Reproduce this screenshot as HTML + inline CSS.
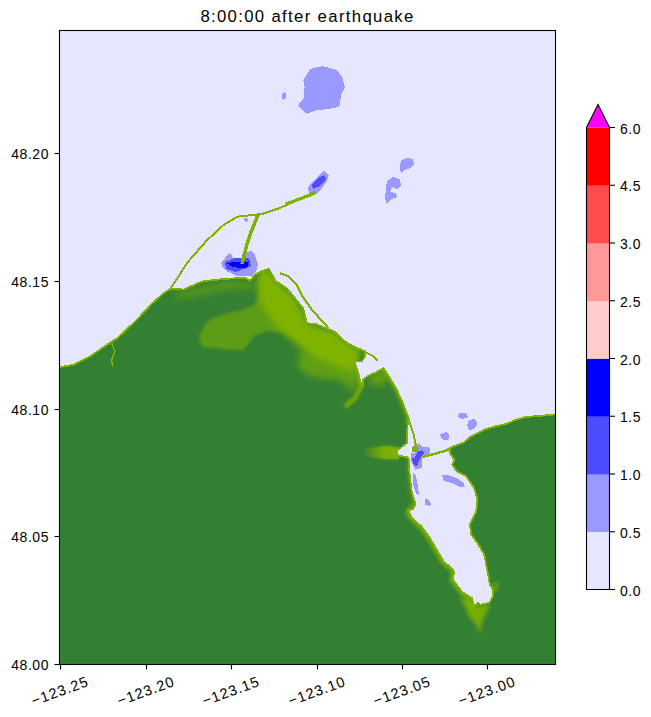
<!DOCTYPE html>
<html><head><meta charset="utf-8"><style>
html,body{margin:0;padding:0;background:#fff;width:651px;height:717px;overflow:hidden}
svg{position:absolute;left:0;top:0}
.t{position:absolute;font-family:"Liberation Sans",sans-serif;font-size:14px;line-height:18px;color:#000;white-space:nowrap;letter-spacing:0.55px}
.title{font-size:16.7px;line-height:20px;letter-spacing:1.35px}
.rx{transform:translate(-50%,-50%) rotate(-20deg);font-size:14.5px;letter-spacing:1.0px}
</style></head><body>
<svg width="651" height="717" viewBox="0 0 651 717">
<defs>
<filter id="b3" x="-50%" y="-50%" width="200%" height="200%"><feGaussianBlur stdDeviation="3"/></filter>
<filter id="b6" x="-50%" y="-50%" width="200%" height="200%"><feGaussianBlur stdDeviation="6"/></filter>
<filter id="b2" x="-50%" y="-50%" width="200%" height="200%"><feGaussianBlur stdDeviation="1.5"/></filter>
<linearGradient id="chg" x1="0" x2="1" y1="0" y2="0"><stop offset="0" stop-color="#80b300" stop-opacity="0"/><stop offset="0.6" stop-color="#80b300" stop-opacity="0.8"/><stop offset="1" stop-color="#80b300" stop-opacity="1"/></linearGradient>
<clipPath id="lc"><polygon points="60.0,367.1 73.4,364.8 89.6,356.8 110.3,342.5 117.2,338.3 135.6,321.0 151.8,303.8 163.3,293.4 170.2,288.8 184.0,289.5 197.9,283.0 205.0,281.0 226.0,278.8 244.5,277.9 250.3,280.5 255.0,274.6 261.8,271.1 268.7,268.8 275.6,281.0 287.2,288.4 296.4,300.0 303.2,308.4 306.9,323.2 316.0,324.1 334.5,331.5 347.4,343.5 358.4,348.6 364.6,351.0 364.6,357.2 361.5,361.5 354.7,361.5 355.4,364.6 358.4,373.2 360.3,381.8 362.7,385.5 363.3,379.3 368.3,375.6 376.9,372.0 380.5,369.5 383.6,368.3 389.1,376.9 396.5,389.1 402.7,402.7 408.8,418.6 407.5,425.0 407.0,443.0 396.8,450.4 397.0,455.0 407.9,457.5 408.8,460.0 409.5,473.7 411.8,492.2 415.3,503.7 413.0,509.4 408.0,510.0 412.0,518.0 422.0,527.0 430.0,538.0 438.0,552.0 444.0,562.0 452.3,568.6 454.1,572.3 452.9,579.7 462.1,591.9 471.9,598.1 474.4,607.3 478.1,602.4 480.5,604.8 489.1,603.0 492.8,596.9 492.8,589.5 489.8,584.6 488.5,576.0 486.7,567.4 485.5,560.0 484.0,554.0 478.0,544.0 471.0,534.0 470.0,524.0 474.0,516.0 476.4,510.6 477.5,499.1 474.0,487.6 466.0,476.0 456.8,471.4 452.2,464.5 454.5,459.9 449.9,453.0 450.3,447.6 463.7,442.6 470.0,437.2 478.3,433.0 486.6,428.9 494.9,426.5 506.0,424.0 515.6,419.9 525.3,417.1 541.9,415.7 555.0,414.4 555.0,664.0 60.0,664.0"/></clipPath>
</defs>
<rect x="60" y="31" width="495" height="633" fill="#e6e6ff"/>
<g shape-rendering="crispEdges">
<polygon points="60.0,367.1 73.4,364.8 89.6,356.8 110.3,342.5 117.2,338.3 135.6,321.0 151.8,303.8 163.3,293.4 170.2,288.8 184.0,289.5 197.9,283.0 205.0,281.0 226.0,278.8 244.5,277.9 250.3,280.5 255.0,274.6 261.8,271.1 268.7,268.8 275.6,281.0 287.2,288.4 296.4,300.0 303.2,308.4 306.9,323.2 316.0,324.1 334.5,331.5 347.4,343.5 358.4,348.6 364.6,351.0 364.6,357.2 361.5,361.5 354.7,361.5 355.4,364.6 358.4,373.2 360.3,381.8 362.7,385.5 363.3,379.3 368.3,375.6 376.9,372.0 380.5,369.5 383.6,368.3 389.1,376.9 396.5,389.1 402.7,402.7 408.8,418.6 407.5,425.0 407.0,443.0 396.8,450.4 397.0,455.0 407.9,457.5 408.8,460.0 409.5,473.7 411.8,492.2 415.3,503.7 413.0,509.4 408.0,510.0 412.0,518.0 422.0,527.0 430.0,538.0 438.0,552.0 444.0,562.0 452.3,568.6 454.1,572.3 452.9,579.7 462.1,591.9 471.9,598.1 474.4,607.3 478.1,602.4 480.5,604.8 489.1,603.0 492.8,596.9 492.8,589.5 489.8,584.6 488.5,576.0 486.7,567.4 485.5,560.0 484.0,554.0 478.0,544.0 471.0,534.0 470.0,524.0 474.0,516.0 476.4,510.6 477.5,499.1 474.0,487.6 466.0,476.0 456.8,471.4 452.2,464.5 454.5,459.9 449.9,453.0 450.3,447.6 463.7,442.6 470.0,437.2 478.3,433.0 486.6,428.9 494.9,426.5 506.0,424.0 515.6,419.9 525.3,417.1 541.9,415.7 555.0,414.4 555.0,664.0 60.0,664.0" fill="#338033"/>
<g clip-path="url(#lc)">
<polygon points="199.0,336.0 205.0,324.0 212.0,318.0 224.0,314.0 242.0,310.0 253.7,305.0 262.0,290.0 285.0,300.0 290.0,320.0 283.0,333.0 268.0,331.0 255.0,335.0 250.0,342.0 242.7,350.6 202.0,347.0" fill="#80b300" opacity="0.55" filter="url(#b2)"/>
<polygon points="300.0,349.0 315.0,357.0 330.0,363.0 350.0,368.0 357.0,382.0 353.0,392.0 340.0,380.0 320.0,379.0 305.0,374.0 298.0,366.0" fill="#80b300" opacity="0.6" filter="url(#b3)"/>
<polygon points="175.0,293.0 226.0,280.0 250.0,281.0 256.0,290.0 230.0,290.0 200.0,296.0 175.0,300.0" fill="#80b300" opacity="0.4" filter="url(#b3)"/>
<polygon points="258.0,271.0 268.0,268.0 276.0,280.0 292.0,294.0 304.0,313.0 308.0,324.0 334.0,331.0 348.0,343.0 362.0,351.0 357.0,361.0 356.0,371.0 360.0,386.0 350.0,372.0 330.0,365.0 315.0,359.0 305.0,351.0 294.0,342.0 283.0,333.0 270.0,318.0 262.0,305.0 257.0,290.0" fill="#80b300" filter="url(#b3)"/>
<polygon points="370.0,376.0 384.0,368.0 390.0,380.0 380.0,386.0 368.0,384.0" fill="#80b300" opacity="0.6" filter="url(#b3)"/>
<polyline points="354,356 357,366 359,376 361,386 355,398 345,407" fill="none" stroke="#80b300" stroke-width="5" opacity="0.8" filter="url(#b2)"/>
<polygon points="363.0,449.0 385.0,446.0 398.0,447.0 399.0,459.0 385.0,459.0 363.0,456.0" fill="url(#chg)" filter="url(#b2)"/>
<polygon points="363.0,449.0 385.0,446.0 398.0,447.0 399.0,459.0 385.0,459.0 363.0,456.0" fill="url(#chg)" opacity="0.6"/>
<filter id="b25" x="-50%" y="-50%" width="200%" height="200%"><feGaussianBlur stdDeviation="2.2"/></filter>
<polygon points="460.0,597.0 472.0,600.0 476.0,607.0 489.0,604.0 489.1,606.0 485.5,615.3 481.8,621.4 480.5,633.7 475.6,623.9 468.3,615.3 463.3,603.0" fill="#80b300" filter="url(#b25)" opacity="0.9"/>
<polyline points="409,460 410,474 412,492 415,503 408,511" fill="none" stroke="#80b300" stroke-width="5" opacity="0.5" filter="url(#b2)"/>
<polyline points="408.0,510.0 412.0,518.0 422.0,527.0 430.0,538.0 438.0,552.0 444.0,562.0 452.3,568.6 454.1,572.3 452.9,579.7 462.1,591.9 471.9,598.1 474.4,607.3" fill="none" stroke="#80b300" stroke-width="7" opacity="0.75" filter="url(#b2)"/>
<polyline points="383.6,368.3 389.1,376.9 396.5,389.1 402.7,402.7 408.8,418.6 407.5,425.0" fill="none" stroke="#80b300" stroke-width="5" opacity="0.7" filter="url(#b2)"/>
<polygon points="490.0,583.0 500.0,582.0 498.0,591.0 491.0,594.0" fill="#80b300" filter="url(#b2)" opacity="0.45"/>
</g>
<polyline points="60.0,367.1 73.4,364.8 89.6,356.8 110.3,342.5 117.2,338.3 135.6,321.0 151.8,303.8 163.3,293.4 170.2,288.8 184.0,289.5 197.9,283.0 205.0,281.0 226.0,278.8 244.5,277.9 250.3,280.5 255.0,274.6 261.8,271.1 268.7,268.8 275.6,281.0 287.2,288.4 296.4,300.0 303.2,308.4 306.9,323.2 316.0,324.1 334.5,331.5 347.4,343.5 358.4,348.6 364.6,351.0 364.6,357.2 361.5,361.5 354.7,361.5 355.4,364.6 358.4,373.2 360.3,381.8 362.7,385.5 363.3,379.3 368.3,375.6 376.9,372.0 380.5,369.5 383.6,368.3 389.1,376.9 396.5,389.1 402.7,402.7 408.8,418.6 407.5,425.0 407.0,443.0 396.8,450.4 397.0,455.0 407.9,457.5 408.8,460.0 409.5,473.7 411.8,492.2 415.3,503.7 413.0,509.4 408.0,510.0 412.0,518.0 422.0,527.0 430.0,538.0 438.0,552.0 444.0,562.0 452.3,568.6 454.1,572.3 452.9,579.7 462.1,591.9 471.9,598.1 474.4,607.3 478.1,602.4 480.5,604.8 489.1,603.0 492.8,596.9 492.8,589.5 489.8,584.6 488.5,576.0 486.7,567.4 485.5,560.0 484.0,554.0 478.0,544.0 471.0,534.0 470.0,524.0 474.0,516.0 476.4,510.6 477.5,499.1 474.0,487.6 466.0,476.0 456.8,471.4 452.2,464.5 454.5,459.9 449.9,453.0 450.3,447.6 463.7,442.6 470.0,437.2 478.3,433.0 486.6,428.9 494.9,426.5 506.0,424.0 515.6,419.9 525.3,417.1 541.9,415.7 555.0,414.4" fill="none" stroke="#80b300" stroke-width="1.8"/>
<polyline points="169.7,290.0 187.6,262.3 207.0,240.2 223.6,225.0 237.4,216.7 262.3,213.9 278.9,208.4 298.2,200.1 314.8,193.2" fill="none" stroke="#80b300" stroke-width="2" stroke-linejoin="round"/>
<polyline points="258.1,214.5 251.2,231.9 246.5,246.0 243.4,258.0 242.0,264.0" fill="none" stroke="#80b300" stroke-width="3.5" stroke-linejoin="round"/>
<polyline points="280.0,273.4 288.0,276.0 296.4,284.0 303.3,297.6 312.4,310.3 329.0,328.7" fill="none" stroke="#80b300" stroke-width="2.2" stroke-linejoin="round"/>
<polyline points="364.6,351.7 373.2,356.0 378.0,360.9" fill="none" stroke="#80b300" stroke-width="2" stroke-linejoin="round"/>
<polyline points="408.8,420.0 413.4,433.8 416.2,447.6" fill="none" stroke="#80b300" stroke-width="2" stroke-linejoin="round"/>
<polyline points="417.1,458.7 425.4,456.0 431.9,454.6 446.6,450.4 451.0,448.0" fill="none" stroke="#80b300" stroke-width="2.5" stroke-linejoin="round"/>
<polyline points="111.6,342.9 114.8,351.5 111.6,360.1 112.7,366.6" fill="none" stroke="#80b300" stroke-width="1.5" stroke-linejoin="round"/>
<polygon points="323.0,66.1 336.8,70.0 342.6,78.0 344.9,87.3 341.4,94.2 339.1,106.8 327.6,109.1 316.1,110.3 306.9,113.8 297.6,105.7 303.4,98.8 304.6,87.3 303.4,80.3 310.3,68.8" fill="#9999ff"/>
<polygon points="284.0,92.0 286.5,93.0 286.0,98.0 283.0,100.0 281.5,97.0 282.0,94.0" fill="#9999ff"/>
<polygon points="324.0,171.0 329.0,175.0 327.0,181.0 322.0,188.0 317.0,193.0 310.0,195.0 307.5,188.0 313.0,181.0 318.0,176.0" fill="#9999ff"/>
<polygon points="401.0,160.0 407.0,158.0 413.0,159.0 414.0,164.0 410.0,168.0 404.0,170.0 401.0,174.0 400.0,167.0" fill="#9999ff"/>
<polygon points="387.0,181.0 393.0,177.0 400.0,179.0 401.0,186.0 397.0,189.0 392.0,187.0 390.0,192.0 396.0,193.0 397.0,197.0 391.0,199.0 387.0,204.0 385.0,198.0 386.0,188.0" fill="#9999ff"/>
<polygon points="221.1,263.4 226.5,255.8 230.4,253.1 233.4,258.0 239.6,260.4 248.0,251.9 251.1,250.4 255.0,255.0 258.0,264.2 256.5,270.3 252.6,275.7 236.5,275.7 226.5,271.1 222.7,267.3" fill="#9999ff"/>
<polygon points="418.0,443.0 421.7,446.7 430.0,447.6 430.5,450.4 429.1,454.1 422.6,456.0 421.7,460.6 421.7,468.0 415.3,469.8 410.7,460.6 410.7,453.2 416.2,452.3 417.1,445.8" fill="#9999ff"/>
<polygon points="459.0,413.0 466.0,413.5 468.0,417.0 462.0,419.0 458.0,417.0" fill="#9999ff"/>
<polygon points="469.0,420.0 475.0,419.0 477.5,424.0 474.0,429.0 469.0,430.0 467.0,425.0" fill="#9999ff"/>
<polygon points="440.2,434.0 446.0,432.0 449.0,434.0 448.5,439.4 443.0,440.0 441.0,438.0" fill="#9999ff"/>
<polygon points="244.0,218.0 247.0,217.5 248.0,221.0 245.0,222.0" fill="#9999ff"/>
<polygon points="442.0,475.0 448.0,475.0 456.0,478.0 463.0,482.0 465.0,487.0 460.0,487.0 452.0,483.0 444.0,481.0" fill="#9999ff"/>
<polygon points="413.0,473.0 416.0,476.0 418.0,486.0 419.0,495.0 416.0,494.0 413.0,484.0" fill="#9999ff"/>
<polygon points="424.5,499.0 428.0,499.0 431.4,504.0 430.0,506.0 425.0,505.0" fill="#9999ff"/>
<polygon points="312.0,185.0 318.0,178.0 324.0,175.0 326.0,179.0 320.0,186.0 313.0,189.0" fill="#4d4dff"/>
<polygon points="225.0,262.0 235.0,258.0 249.0,258.0 251.0,266.0 236.0,272.0 226.0,269.0" fill="#4d4dff"/>
<polygon points="418.0,451.3 421.7,450.4 424.5,453.2 420.8,456.9 418.0,463.3 417.1,466.1 413.9,465.2 411.6,458.7 414.4,457.8" fill="#4d4dff"/>
<polygon points="227.3,263.4 235.0,261.5 248.8,261.9 247.3,268.0 232.7,267.3" fill="#0000ff"/>
<polygon points="411.6,447.6 417.1,443 418,451.3 411.6,452.3" fill="#80b300"/>
<polyline points="286.0,204.0 298.2,199.5 310.0,195.0 316.0,192.0" fill="none" stroke="#80b300" stroke-width="3.2" stroke-linejoin="round"/>
<polyline points="246.5,246.0 243.4,258.0 242.0,264.0" fill="none" stroke="#80b300" stroke-width="3.5"/>
</g>
<rect x="59.5" y="30.5" width="496" height="634" fill="none" stroke="#000" stroke-width="1.1"/>
<line x1="54.5" x2="59.5" y1="153.5" y2="153.5" stroke="#000" stroke-width="1.1"/>
<line x1="54.5" x2="59.5" y1="281.5" y2="281.5" stroke="#000" stroke-width="1.1"/>
<line x1="54.5" x2="59.5" y1="409.5" y2="409.5" stroke="#000" stroke-width="1.1"/>
<line x1="54.5" x2="59.5" y1="536.5" y2="536.5" stroke="#000" stroke-width="1.1"/>
<line x1="54.5" x2="59.5" y1="664.5" y2="664.5" stroke="#000" stroke-width="1.1"/>
<line y1="664.5" y2="669.5" x1="60.5" x2="60.5" stroke="#000" stroke-width="1.1"/>
<line y1="664.5" y2="669.5" x1="146.5" x2="146.5" stroke="#000" stroke-width="1.1"/>
<line y1="664.5" y2="669.5" x1="231.5" x2="231.5" stroke="#000" stroke-width="1.1"/>
<line y1="664.5" y2="669.5" x1="317.5" x2="317.5" stroke="#000" stroke-width="1.1"/>
<line y1="664.5" y2="669.5" x1="402.5" x2="402.5" stroke="#000" stroke-width="1.1"/>
<line y1="664.5" y2="669.5" x1="487.5" x2="487.5" stroke="#000" stroke-width="1.1"/>
<rect x="586.5" y="531.75" width="23.0" height="58.05" fill="#e6e6ff"/>
<rect x="586.5" y="474.00" width="23.0" height="58.05" fill="#9999ff"/>
<rect x="586.5" y="416.25" width="23.0" height="58.05" fill="#4d4dff"/>
<rect x="586.5" y="358.50" width="23.0" height="58.05" fill="#0000ff"/>
<rect x="586.5" y="300.75" width="23.0" height="58.05" fill="#ffcccc"/>
<rect x="586.5" y="243.00" width="23.0" height="58.05" fill="#ff9999"/>
<rect x="586.5" y="185.25" width="23.0" height="58.05" fill="#ff4d4d"/>
<rect x="586.5" y="127.50" width="23.0" height="58.05" fill="#ff0000"/>
<polygon points="586.5,127.5 598,104.5 609.5,127.5" fill="#ff00ff"/>
<path d="M586.5,127.5 L598,104.5 L609.5,127.5 L609.5,589.5 L586.5,589.5 Z" fill="none" stroke="#000" stroke-width="1.1"/>
<line x1="609.5" x2="615.0" y1="589.50" y2="589.50" stroke="#000" stroke-width="1.1"/>
<line x1="609.5" x2="615.0" y1="531.75" y2="531.75" stroke="#000" stroke-width="1.1"/>
<line x1="609.5" x2="615.0" y1="474.00" y2="474.00" stroke="#000" stroke-width="1.1"/>
<line x1="609.5" x2="615.0" y1="416.25" y2="416.25" stroke="#000" stroke-width="1.1"/>
<line x1="609.5" x2="615.0" y1="358.50" y2="358.50" stroke="#000" stroke-width="1.1"/>
<line x1="609.5" x2="615.0" y1="300.75" y2="300.75" stroke="#000" stroke-width="1.1"/>
<line x1="609.5" x2="615.0" y1="243.00" y2="243.00" stroke="#000" stroke-width="1.1"/>
<line x1="609.5" x2="615.0" y1="185.25" y2="185.25" stroke="#000" stroke-width="1.1"/>
<line x1="609.5" x2="615.0" y1="127.50" y2="127.50" stroke="#000" stroke-width="1.1"/>
</svg>
<div class="t title" style="left:307.5px;top:7px;transform:translateX(-50%)">8:00:00 after earthquake</div>
<div class="t" style="right:602px;top:145.2px">48.20</div>
<div class="t" style="right:602px;top:273.2px">48.15</div>
<div class="t" style="right:602px;top:401.2px">48.10</div>
<div class="t" style="right:602px;top:528.2px">48.05</div>
<div class="t" style="right:602px;top:656.2px">48.00</div>
<div class="t rx" style="left:60.0px;top:691px">−123.25</div>
<div class="t rx" style="left:146.0px;top:691px">−123.20</div>
<div class="t rx" style="left:231.0px;top:691px">−123.15</div>
<div class="t rx" style="left:317.0px;top:691px">−123.10</div>
<div class="t rx" style="left:402.0px;top:691px">−123.05</div>
<div class="t rx" style="left:487.0px;top:691px">−123.00</div>
<div class="t" style="left:620px;top:581.5px">0.0</div>
<div class="t" style="left:620px;top:523.8px">0.5</div>
<div class="t" style="left:620px;top:466.0px">1.0</div>
<div class="t" style="left:620px;top:408.2px">1.5</div>
<div class="t" style="left:620px;top:350.5px">2.0</div>
<div class="t" style="left:620px;top:292.8px">2.5</div>
<div class="t" style="left:620px;top:235.0px">3.0</div>
<div class="t" style="left:620px;top:177.2px">4.5</div>
<div class="t" style="left:620px;top:119.5px">6.0</div>
</body></html>
